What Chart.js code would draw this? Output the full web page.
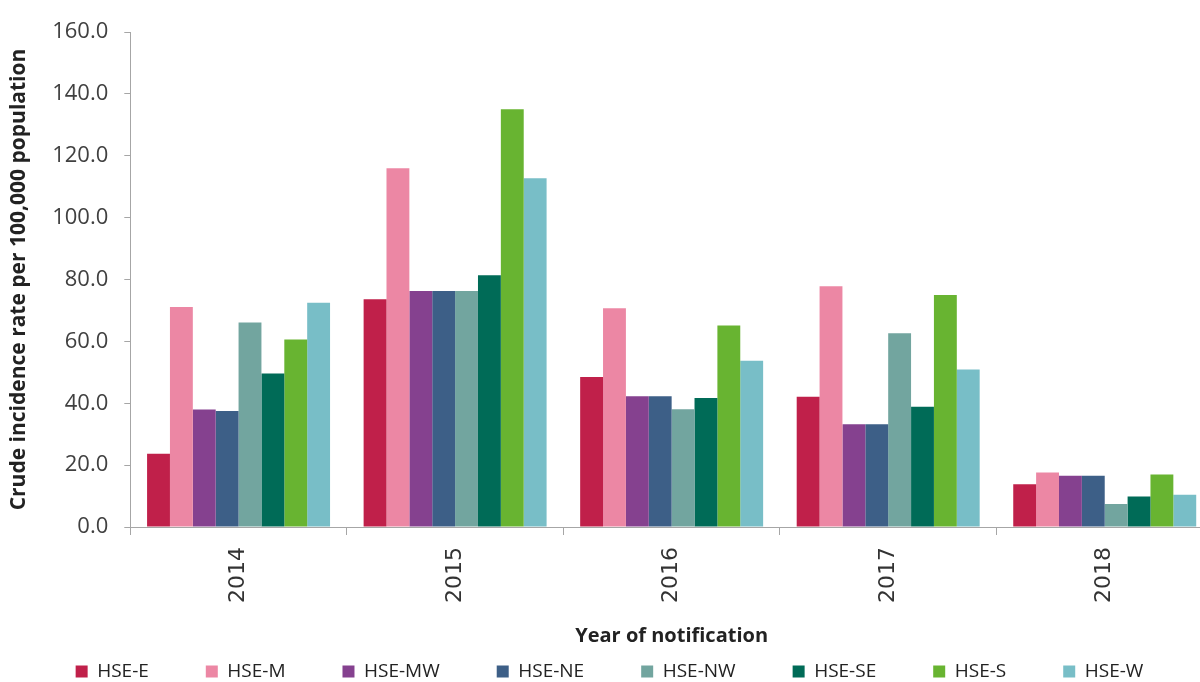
<!DOCTYPE html>
<html>

<head>
  <title>Crude incidence rate by HSE area</title>
  <style>
    body { margin: 0; overflow: hidden; background: #fff; }
    #wrap { width: 1215px; height: 682px; }
  </style>
</head>

<body>
  <div id="wrap"><canvas id="chart"></canvas></div>
  <script src="https://cdn.jsdelivr.net/npm/chart.js"></script>
  <script>
    const years = ['2014', '2015', '2016', '2017', '2018'];
    const areas = ['HSE-E', 'HSE-M', 'HSE-MW', 'HSE-NE', 'HSE-NW', 'HSE-SE', 'HSE-S', 'HSE-W'];
    const colours = ['#C0204A', '#EC87A4', '#85418F', '#3D5F87', '#72A59F', '#006B57', '#68B431', '#78BEC7'];

    const hseE = [23.7, 73.6, 48.5, 42.1, 13.8];
    const hseM = [71.1, 116.0, 70.7, 77.8, 17.6];
    const hseMW = [38.0, 76.3, 42.3, 33.2, 16.6];
    const hseNE = [37.5, 76.3, 42.3, 33.2, 16.6];
    const hseNW = [66.1, 76.3, 38.1, 62.6, 7.4];
    const hseSE = [49.6, 81.4, 41.7, 38.9, 9.9];
    const hseS = [60.6, 135.0, 65.1, 75.0, 17.0];
    const hseW = [72.5, 112.7, 53.7, 50.9, 10.4];

    const yTicks = [0, 20, 40, 60, 80, 100, 120, 140, 160];

    const series = [hseE, hseM, hseMW, hseNE, hseNW, hseSE, hseS, hseW];
    const axisColour = '#A6A6A6';
    const textColour = '#404040';

    let ctx = document.getElementById('chart').getContext('2d');
    let barGraph = new Chart(ctx, {
      type: 'bar',
      data: {
        labels: years,
        datasets: series.map((vals, i) => ({
          label: areas[i],
          data: vals,
          backgroundColor: colours[i],
          borderWidth: 0,
          barPercentage: 1.0,
          categoryPercentage: 0.845
        }))
      },
      options: {
        responsive: true,
        maintainAspectRatio: false,
        animation: false,
        layout: { padding: { left: 6, right: 2, top: 32, bottom: -9 } },
        plugins: {
          tooltip: { enabled: false },
          legend: {
            position: 'bottom',
            labels: {
              boxWidth: 12,
              boxHeight: 12,
              padding: 57,
              color: '#222',
              font: { family: 'Open Sans', size: 19 }
            }
          }
        },
        scales: {
          x: {
            grid: {
              display: true,
              drawOnChartArea: false,
              offset: true,
              color: axisColour,
              tickLength: 8
            },
            border: { color: axisColour },
            ticks: {
              minRotation: 90,
              maxRotation: 90,
              padding: 12,
              color: '#333',
              font: { family: 'DejaVu Sans', size: 22 }
            },
            title: {
              display: true,
              text: 'Year of notification',
              color: '#222',
              font: { family: 'Open Sans', size: 20, weight: 'bold' },
              padding: { top: 9, bottom: -43 }
            }
          },
          y: {
            min: 0,
            max: 160,
            afterBuildTicks: (axis) => { axis.ticks = yTicks.map(v => ({ value: v })); },
            grid: {
              display: true,
              drawOnChartArea: false,
              color: axisColour,
              tickLength: 6
            },
            border: { color: axisColour },
            ticks: {
              padding: 16,
              color: textColour,
              font: { family: 'Open Sans', size: 22 },
              callback: (v) => Number(v).toFixed(1)
            },
            title: {
              display: true,
              text: 'Crude incidence rate per 100,000 population',
              color: '#222',
              font: { family: 'Open Sans', size: 21, weight: 'bold' },
              padding: { top: 0, bottom: 5 }
            }
          }
        }
      }
    });
  </script>
</body>

</html>
